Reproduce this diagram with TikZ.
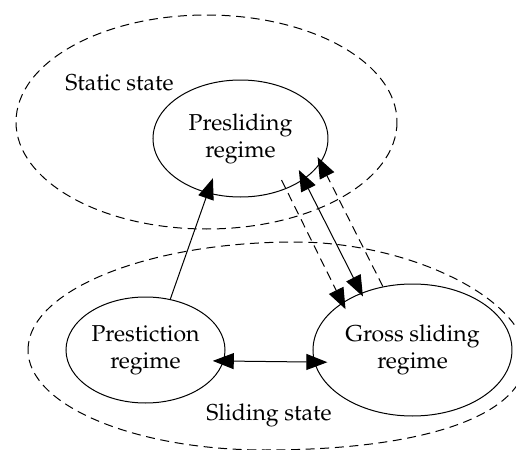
\documentclass[tikz,border=0pt]{standalone}
\usepackage[T1]{fontenc}
\usepackage{mathpazo}
\usetikzlibrary{arrows.meta,shapes.geometric}
\begin{document}
\begin{tikzpicture}[x=0.5pt,y=-0.5pt,
  txt/.style={font=\fontsize{11.5}{13.5}\selectfont},
  regime/.style={txt, draw, ellipse, inner sep=0pt, align=center, line width=0.5pt},
  cluster/.style={draw, line width=0.5pt, dash pattern=on 4.5pt off 2.8pt},
  tip/.tip={Triangle[length=10.5pt,width=8pt]},
  link/.style={line width=0.5pt},
  dlink/.style={line width=0.5pt, dash pattern=on 4.5pt off 2.8pt}
]
\useasboundingbox (0,0) rectangle (516,450);

% the two state groups
\draw[cluster] (206.5,122) ellipse [x radius=190.5, y radius=107];
\draw[cluster] (28,350)
  .. controls (28,290.4) and (147.6,242) .. (295,242)
  .. controls (410.5,242) and (526,299.5) .. (526,357)
  .. controls (526,414.7) and (426.8,450) .. (265,450)
  .. controls (134.2,450) and (28,405.2) .. cycle;
\node[txt] (statictxt) at (119.5,83) {Static state};
\node[txt] (slidingtxt) at (269,415) {Sliding state};

% regimes
\node[regime, minimum width=87.5pt, minimum height=58.5pt] (presl) at (240.5,138.5) {Presliding\\regime};
\node[regime, minimum width=79.5pt, minimum height=53pt] (prest) at (145.5,350) {Prestiction\\regime};
\node[regime, minimum width=99.5pt, minimum height=66pt] (gross) at (412.5,350) {Gross sliding\\regime};

% transitions
\draw[link, -tip, shorten >=-8pt] (prest.64.8) -- (presl.239.6);
\draw[link, tip-tip, shorten <=-5.5pt, shorten >=-6.6pt] (prest.-8.8) -- (gross.187);
\draw[link, tip-tip, shorten <=-5.35pt, shorten >=-2pt] (presl.-33.3) -- (gross.132.2);
\draw[dlink, -tip, shorten <=-5pt, shorten >=-3.65pt] (presl.-48.9) -- (gross.146.7);
\draw[dlink, -tip, shorten >=-3.3pt] (gross.115.8) -- (presl.-17.1);
\end{tikzpicture}
\end{document}
